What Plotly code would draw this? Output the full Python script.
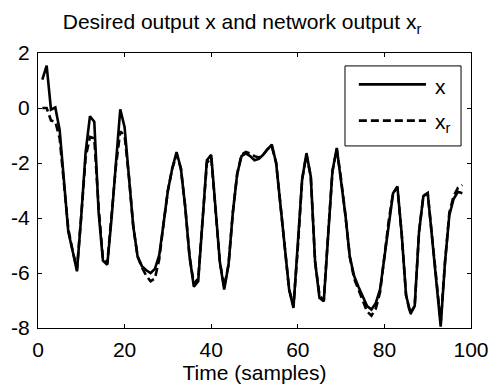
import plotly.graph_objects as go

# Time samples
t = list(range(1, 99))

# Desired output x (solid)
x_desired = [
    1.03, 1.54, -0.06, 0.02, -0.8, -2.7, -4.5, -5.2, -5.94, -3.9,
    -1.6, -0.3, -0.5, -3.8, -5.55, -5.7, -4.0, -2.0, -0.05, -0.7,
    -2.5, -4.3, -5.4, -5.75, -5.9, -6.0, -5.85, -5.35, -4.2, -3.0,
    -2.2, -1.6, -2.2, -3.6, -5.4, -6.5, -6.3, -4.0, -1.9, -1.7,
    -3.8, -5.6, -6.6, -5.7, -3.8, -2.4, -1.75, -1.65, -1.75, -1.9,
    -1.85, -1.7, -1.5, -1.33, -2.0, -3.5, -5.0, -6.6, -7.27, -5.1,
    -2.6, -1.64, -2.5, -5.6, -6.9, -7.03, -4.6, -2.3, -1.45, -2.6,
    -3.9, -5.4, -6.1, -6.5, -6.85, -7.2, -7.33, -7.1, -6.6, -5.4,
    -4.1, -3.1, -2.85, -4.6, -6.8, -7.45, -7.2, -4.5, -3.2, -3.09,
    -4.7, -6.3, -7.95, -5.6, -3.9, -3.3, -3.05, -3.1,
]

# Network output x_r (dashed)
x_network = [
    0.0, 0.0, -0.45, -0.5, -1.1, -2.7, -4.4, -5.2, -5.85, -3.9,
    -1.8, -1.05, -1.1, -3.6, -5.5, -5.65, -4.0, -2.1, -0.85, -1.0,
    -2.5, -4.3, -5.4, -5.8, -6.1, -6.3, -6.2, -5.5, -4.2, -3.0,
    -2.2, -1.7, -2.2, -3.6, -5.4, -6.4, -6.2, -4.0, -2.0, -1.8,
    -3.8, -5.6, -6.5, -5.7, -3.8, -2.4, -1.7, -1.6, -1.65, -1.75,
    -1.8, -1.7, -1.5, -1.4, -2.0, -3.5, -5.0, -6.6, -7.2, -5.1,
    -2.6, -1.7, -2.5, -5.6, -6.8, -7.0, -4.6, -2.3, -1.5, -2.6,
    -3.9, -5.4, -6.2, -6.6, -7.0, -7.4, -7.55, -7.3, -6.7, -5.4,
    -4.1, -3.1, -2.9, -4.6, -6.8, -7.5, -7.2, -4.5, -3.2, -3.1,
    -4.7, -6.3, -7.8, -5.6, -3.8, -3.2, -2.9, -2.8,
]

x_ticks = [0, 20, 40, 60, 80, 100]
y_ticks = [2, 0, -2, -4, -6, -8]

FONT = "Liberation Sans, Arial, Helvetica, sans-serif"
FS = 21

fig = go.Figure()
fig.add_trace(go.Scatter(x=t, y=x_desired, mode="lines", name="x",
                         line=dict(color="black", width=2.6), showlegend=False))
fig.add_trace(go.Scatter(x=t, y=x_network, mode="lines", name="x<sub>r</sub>",
                         line=dict(color="black", width=2.6, dash="8px,4px"), showlegend=False))

# Legend (MATLAB style box)
fig.add_shape(type="rect", xref="paper", yref="paper", x0=0.709, x1=0.977, y0=0.662, y1=0.953,
              line=dict(color="black", width=1), fillcolor="white", layer="above")
fig.add_shape(type="line", xref="paper", yref="paper", x0=0.741, x1=0.896, y0=0.886, y1=0.886,
              line=dict(color="black", width=2.6), layer="above")
fig.add_shape(type="line", xref="paper", yref="paper", x0=0.741, x1=0.896, y0=0.754, y1=0.754,
              line=dict(color="black", width=2.6, dash="8px,4px"), layer="above")
fig.add_annotation(xref="paper", yref="paper", x=0.913, y=0.880, text="x", showarrow=False,
                   xanchor="left", yanchor="middle", font=dict(family=FONT, size=FS, color="black"))
fig.add_annotation(xref="paper", yref="paper", x=0.913, y=0.745, text="x<sub>r</sub>", showarrow=False,
                   xanchor="left", yanchor="middle", font=dict(family=FONT, size=FS, color="black"))

axis_common = dict(
    showgrid=False, zeroline=False, showline=True, linecolor="black", linewidth=1,
    mirror="ticks", ticks="inside", ticklen=4, tickcolor="black", tickwidth=1,
    tickfont=dict(family=FONT, size=FS, color="black"), automargin=False,
)

fig.update_layout(
    width=494, height=387,
    margin=dict(l=38, r=23, t=53, b=59, autoexpand=False),
    paper_bgcolor="white", plot_bgcolor="white",
    title=dict(text="Desired output x and network output x<sub>r</sub>",
               x=0.49, xref="container", xanchor="center",
               y=0.943, yref="container", yanchor="middle", automargin=False,
               font=dict(family=FONT, size=FS, color="black")),
    xaxis=dict(range=[0, 100], tickvals=x_ticks, ticktext=[str(v) for v in x_ticks],
               ticklabelstandoff=3,
               title=dict(text="Time (samples)", font=dict(family=FONT, size=FS, color="black"), standoff=5),
               **axis_common),
    yaxis=dict(range=[-8, 2], tickvals=y_ticks, ticktext=[str(v) for v in y_ticks],
               ticklabelstandoff=3,
               **axis_common),
)

fig.write_html("out.html", config={"displayModeBar": False},
               post_script="document.body.style.margin='0px';")
